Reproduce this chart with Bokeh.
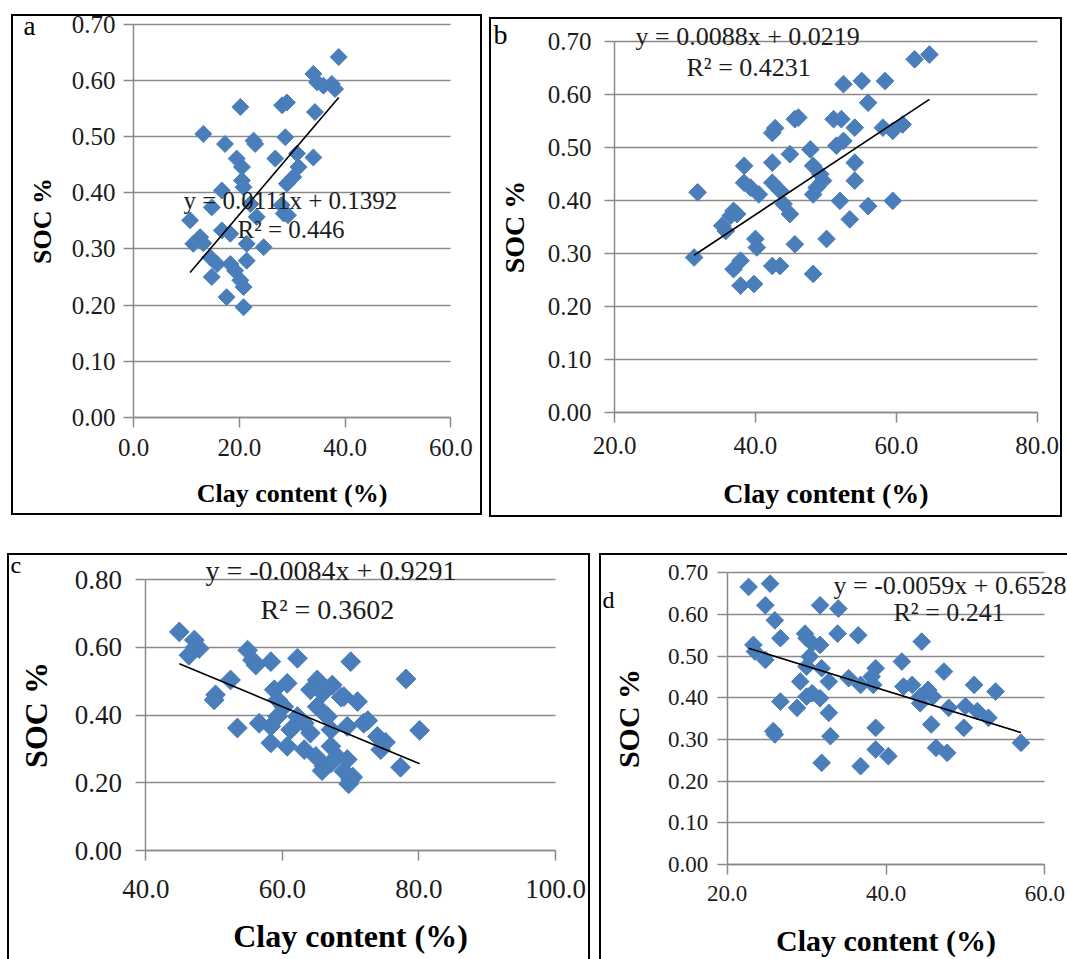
import numpy as np
from bokeh.plotting import figure
from bokeh.models import Range1d, FixedTicker, PrintfTickFormatter, Label, Grid
from bokeh.layouts import row, column
from bokeh.embed import file_html
from bokeh.resources import INLINE

# ---------------- data ----------------
a_clay = [38.8, 34.0, 35.9, 37.5, 34.7, 38.1, 34.3, 20.2, 28.1, 29.0, 13.2, 17.3, 22.7, 23.0, 28.7,
          19.5, 20.5, 26.8, 30.9, 34.0, 31.2, 30.2, 29.0, 20.5, 20.8, 16.7, 14.8, 22.1, 23.3, 28.4,
          29.2, 10.7, 16.7, 12.6, 13.2, 18.3, 21.4, 24.6, 14.5, 15.8, 21.4, 18.3, 19.2, 20.2, 14.8,
          20.8, 17.6, 20.8, 11.3, 28.0]
a_soc = [0.642, 0.612, 0.591, 0.594, 0.597, 0.585, 0.544, 0.553, 0.556, 0.561, 0.505, 0.487, 0.493,
         0.487, 0.499, 0.461, 0.446, 0.461, 0.470, 0.463, 0.446, 0.428, 0.416, 0.422, 0.410, 0.404,
         0.374, 0.380, 0.357, 0.363, 0.360, 0.351, 0.333, 0.321, 0.310, 0.327, 0.309, 0.303, 0.285,
         0.273, 0.279, 0.273, 0.261, 0.244, 0.250, 0.232, 0.214, 0.196, 0.309, 0.378]
a_fit = (0.0111, 0.1392, 0.446)

b_clay = [64.7, 62.6, 52.5, 55.1, 58.4, 56.0, 46.1, 45.6, 42.4, 42.8, 51.1, 52.2, 54.1, 58.1, 59.5,
          60.9, 51.5, 52.5, 47.8, 44.9, 42.4, 54.1, 38.4, 48.2, 49.2, 54.1, 38.4, 39.3, 42.4, 40.5,
          43.5, 48.7, 48.2, 49.6, 31.8, 52.0, 56.0, 59.5, 53.4, 44.0, 44.9, 36.9, 36.5, 37.4, 35.3,
          35.8, 40.0, 40.2, 45.6, 50.1, 31.3, 37.9, 36.9, 42.4, 43.5, 48.2, 37.9, 39.8]
b_soc = [0.676, 0.667, 0.620, 0.626, 0.626, 0.585, 0.557, 0.554, 0.528, 0.537, 0.554, 0.554, 0.538,
         0.538, 0.532, 0.544, 0.504, 0.513, 0.497, 0.488, 0.472, 0.472, 0.466, 0.466, 0.450, 0.438,
         0.434, 0.425, 0.434, 0.412, 0.419, 0.425, 0.412, 0.438, 0.416, 0.400, 0.390, 0.400, 0.365,
         0.394, 0.375, 0.381, 0.372, 0.375, 0.353, 0.343, 0.328, 0.312, 0.318, 0.328, 0.293, 0.287,
         0.271, 0.277, 0.277, 0.262, 0.240, 0.243]
b_fit = (0.0088, 0.0219, 0.4231)

c_clay = [44.9, 47.1, 47.3, 46.3, 47.8, 54.9, 55.6, 56.1, 58.3, 62.2, 70.0, 52.4, 50.2, 50.0, 58.8,
          60.7, 59.3, 65.1, 67.3, 65.9, 64.1, 69.0, 71.0, 60.2, 62.2, 63.2, 65.1, 66.6, 59.3, 58.3,
          53.4, 56.6, 69.5, 71.9, 73.9, 58.3, 60.7, 63.2, 64.9, 67.1, 68.0, 66.1, 67.1, 69.5, 70.0,
          69.0, 74.4, 61.2, 64.1, 67.1, 78.1, 80.1, 77.3, 75.1, 72.5, 68.6, 70.3, 69.7, 65.8]
c_soc = [0.646, 0.622, 0.602, 0.577, 0.597, 0.592, 0.563, 0.548, 0.558, 0.568, 0.558, 0.504, 0.460,
         0.445, 0.475, 0.494, 0.445, 0.504, 0.489, 0.465, 0.475, 0.455, 0.440, 0.425, 0.396, 0.376,
         0.425, 0.396, 0.396, 0.367, 0.362, 0.376, 0.367, 0.376, 0.337, 0.318, 0.308, 0.298, 0.278,
         0.308, 0.278, 0.249, 0.259, 0.269, 0.210, 0.234, 0.298, 0.357, 0.347, 0.357, 0.507, 0.355,
         0.246, 0.320, 0.384, 0.453, 0.217, 0.197, 0.236]
c_fit = (-0.0084, 0.9291, 0.3602)

d_clay = [22.7, 25.4, 24.8, 26.0, 26.7, 23.3, 23.5, 24.8, 26.7, 25.8, 26.0, 29.2, 28.8, 29.8, 30.0,
          30.7, 31.7, 30.4, 30.0, 30.7, 30.0, 31.7, 31.9, 31.7, 34.0, 33.9, 32.8, 32.8, 33.0, 31.9,
          36.5, 35.3, 36.8, 36.8, 38.7, 38.2, 38.4, 38.7, 38.7, 40.3, 42.0, 42.2, 43.3, 44.5, 44.3,
          45.3, 45.9, 45.7, 46.3, 47.7, 47.3, 47.9, 51.1, 49.8, 50.0, 51.5, 52.9, 53.8, 57.0, 44.3]
d_soc = [0.666, 0.674, 0.622, 0.586, 0.543, 0.527, 0.511, 0.491, 0.391, 0.320, 0.312, 0.439, 0.376,
         0.554, 0.543, 0.531, 0.527, 0.499, 0.475, 0.411, 0.403, 0.399, 0.471, 0.622, 0.614, 0.554,
         0.439, 0.364, 0.308, 0.244, 0.550, 0.447, 0.431, 0.236, 0.471, 0.451, 0.431, 0.328, 0.276,
         0.260, 0.487, 0.427, 0.431, 0.535, 0.403, 0.419, 0.403, 0.336, 0.280, 0.268, 0.463, 0.376,
         0.431, 0.328, 0.380, 0.368, 0.352, 0.415, 0.292, 0.387]
d_fit = (-0.0059, 0.6528, 0.241)

x_title = "Clay content (%)"
y_title = "SOC %"

BLUE = "#4A7EBB"
GRID = "#8a8a8a"
TXT = "#1c1c1c"
SERIF = "Liberation Serif"
HAS_CROSS = "cross_bounds" in Grid.properties()


def panel(clay, soc, fit, letter, cfg):
    slope, intercept, r2 = fit
    w, h = cfg["w"], cfg["h"]
    L, T, W, H = cfg["frame"]
    (x0, x1), (y0, y1) = cfg["xr"], cfg["yr"]
    sx = W / (x1 - x0)
    sy = H / (y1 - y0)
    # the whole canvas is the plotting frame; the data window sits at (L, T, W, H)
    xrng = Range1d(x0 - L / sx, x1 + (w - L - W) / sx)
    yrng = Range1d(y0 - (h - T - H) / sy, y1 + T / sy)

    def to_data(px, py):
        return x0 + (px - L) / sx, y0 + (T + H - py) / sy

    p = figure(width=w, height=h, title=None, x_range=xrng, y_range=yrng,
               output_backend="svg", toolbar_location=None, min_border=0)
    p.margin = cfg["margin"]
    p.border_fill_color = None
    p.background_fill_color = None
    p.outline_line_color = None
    p.styles = {"box-shadow": cfg["shadow"]}

    p.xaxis.fixed_location = y0
    p.yaxis.fixed_location = x0
    p.xaxis.bounds = (x0, x1)
    p.yaxis.bounds = (y0, y1)

    p.xgrid.visible = False
    p.ygrid.grid_line_color = GRID
    p.ygrid.grid_line_width = 1.5
    if HAS_CROSS:
        p.ygrid.cross_bounds = (x0, x1)

    p.xaxis.ticker = FixedTicker(ticks=cfg["xt"])
    p.yaxis.ticker = FixedTicker(ticks=cfg["yt"])
    p.xaxis.formatter = PrintfTickFormatter(format="%.1f")
    p.yaxis.formatter = PrintfTickFormatter(format="%.2f")
    for ax in (p.xaxis, p.yaxis):
        ax.axis_line_color = GRID
        ax.axis_line_width = 1.5
        ax.major_tick_line_color = GRID
        ax.major_tick_line_width = 1.5
        ax.major_tick_in = 0
        ax.major_tick_out = 10
        ax.minor_tick_line_color = None
        ax.major_label_text_font = SERIF
        ax.major_label_text_font_size = f"{cfg['tfs']}px"
        ax.major_label_text_color = TXT
        ax.axis_label_text_font = SERIF
        ax.axis_label_text_font_style = "bold"
        ax.axis_label_text_font_size = f"{cfg['afs']}px"
        ax.axis_label_text_color = "black"
    p.xaxis.axis_label = x_title
    p.yaxis.axis_label = y_title
    p.xaxis.major_label_standoff = cfg["xls"]
    p.yaxis.major_label_standoff = cfg["yls"]
    p.xaxis.axis_label_standoff = cfg["xas"]
    p.yaxis.axis_label_standoff = cfg["yas"]

    if not HAS_CROSS:
        p.ygrid.visible = False
        yt = np.array(cfg["yt"], dtype=float)
        p.segment(x0=[x0] * len(yt), x1=[x1] * len(yt), y0=yt, y1=yt,
                  line_color=GRID, line_width=1.5)

    p.scatter(clay, soc, marker="square", angle=np.pi / 4, size=cfg["ms"],
              fill_color=BLUE, line_color=BLUE)
    xs = np.array([min(clay), max(clay)])
    p.line(xs, slope * xs + intercept, line_color="black", line_width=1.6)

    sign = "+" if intercept >= 0 else "-"
    eq = f"y = {slope:.4f}x {sign} {abs(intercept):.4f}"
    ex, ey = to_data(*cfg["eq"])
    rx, ry = to_data(*cfg["r2"])
    lx, ly = to_data(*cfg["lt"])
    p.add_layout(Label(x=ex, y=ey, text=eq, text_font=SERIF,
                       text_font_size=f"{cfg['efs']}px", text_color=TXT,
                       text_align="left", text_baseline="middle"))
    p.add_layout(Label(x=rx, y=ry, text=f"R\u00b2 = {r2}", text_font=SERIF,
                       text_font_size=f"{cfg['efs']}px", text_color=TXT,
                       text_align="left", text_baseline="middle"))
    p.add_layout(Label(x=lx, y=ly, text=letter, text_font=SERIF,
                       text_font_size=f"{cfg['lfs']}px", text_color="black",
                       text_align="left", text_baseline="alphabetic"))
    return p


ALL = "inset 0 0 0 2px #000"
# panel a starts 6px above its border, so that its top tick label has room
A_BOX = ("inset 0 6px 0 0 #fff, inset 0 8px 0 0 #000, inset 2px 0 0 0 #000, "
         "inset -2px 0 0 0 #000, inset 0 -2px 0 0 #000")
# panel c starts 8px above its border, so that its letter has room
C_BOX = ("inset 0 8px 0 0 #fff, inset 0 10px 0 0 #000, inset 2px 0 0 0 #000, "
         "inset -2px 0 0 0 #000")
ya = [round(v, 2) for v in np.arange(0, 0.71, 0.1)]
yc = [round(v, 2) for v in np.arange(0, 0.81, 0.2)]

pa = panel(a_clay, a_soc, a_fit, "a", dict(
    w=471, h=507, margin=(8, 0, 0, 11), frame=(122, 16, 317.4, 392.7),
    xr=(0, 60), yr=(0, 0.7), xt=[0, 20, 40, 60], yt=ya, shadow=A_BOX,
    tfs=25, afs=26, efs=25, lfs=27, ms=12, xls=12, yls=8, xas=19, yas=12,
    eq=(172, 192), r2=(226, 221), lt=(12, 17)))

pb = panel(b_clay, b_soc, b_fit, "b", dict(
    w=573, h=500, margin=(17, 0, 0, 7), frame=(125, 24.3, 422.7, 371),
    xr=(20, 80), yr=(0, 0.7), xt=[20, 40, 60, 80], yt=ya, shadow=ALL,
    tfs=25, afs=28, efs=26, lfs=28, ms=12.5, xls=14, yls=13, xas=21, yas=15,
    eq=(146, 19), r2=(197, 50), lt=(4, 17)))

pc = panel(c_clay, c_soc, c_fit, "c", dict(
    w=583, h=414, margin=(28, 0, 0, 7), frame=(138.4, 34.3, 409.6, 270.7),
    xr=(40, 100), yr=(0, 0.8), xt=[40, 60, 80, 100], yt=yc, shadow=C_BOX,
    tfs=27, afs=32, efs=28, lfs=24, ms=14, xls=19, yls=14, xas=17, yas=17,
    eq=(198, 25), r2=(253, 64), lt=(3, 19)))

pd_ = panel(d_clay, d_soc, d_fit, "d", dict(
    w=468, h=406, margin=(36, 0, 0, 9), frame=(127.7, 19.3, 317.6, 291.7),
    xr=(20, 60), yr=(0, 0.7), xt=[20, 40, 60], yt=ya,
    shadow="inset 2px 2px 0 0 #000",
    tfs=23, afs=30, efs=26, lfs=24, ms=12.5, xls=11, yls=9, xas=20, yas=20,
    eq=(234, 32), r2=(294, 59), lt=(3, 46)))

layout = column(row(pa, pb, spacing=0), row(pc, pd_, spacing=0), spacing=0)

open("out.html", "w").write(file_html(layout, INLINE))
